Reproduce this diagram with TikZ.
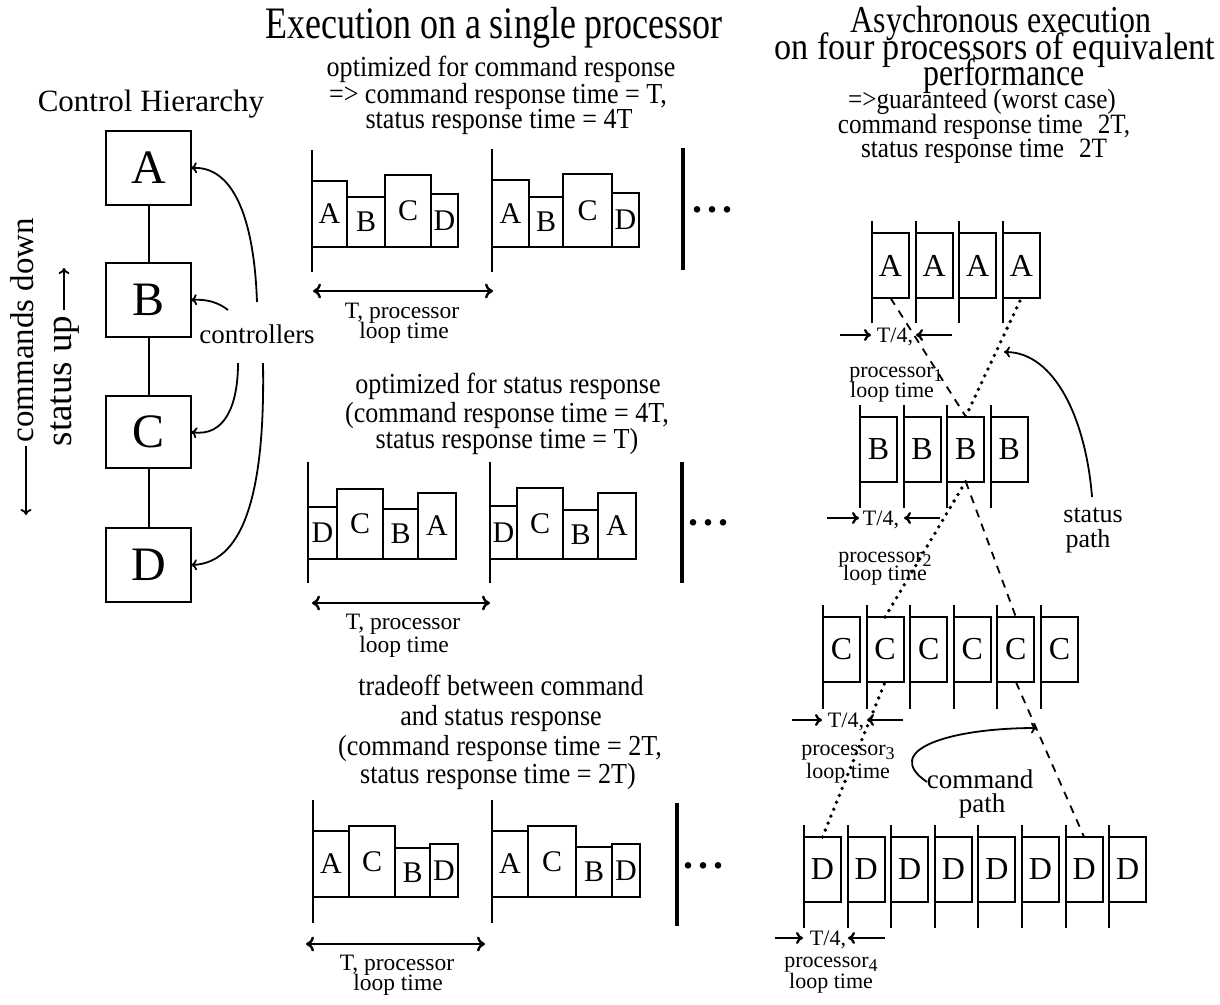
\documentclass[tikz,border=0pt]{standalone}
\usepackage{fontspec}
\setmainfont{Liberation Serif}
\newfontfamily\condA{Liberation Serif}[FakeStretch=0.8]
\newfontfamily\condB{Liberation Serif}[FakeStretch=0.9]
\newfontfamily\condC{Liberation Serif}[FakeStretch=0.84]
\usetikzlibrary{arrows.meta,calc}
\pgfdeclarelayer{paper}
\pgfsetlayers{paper,main}
\newcommand\fsz[1]{\fontsize{#1}{#1}\selectfont}
\newcommand\mb[6]{\node[mbox, minimum width={#3-#2}, minimum height={#5-#4}] (#1) at ({(#2+#3)/2},{(#4+#5)/2}) {#6};}
\newcommand\tx[5]{\node[anchor=base, font=#4] (#1) at (#2,#3) {#5};}
\tikzset{
  every node/.style={inner sep=0pt, outer sep=0pt},
  lbox/.style={draw, line width=2.2pt, fill=white, minimum width=85, minimum height=74, font=\fsz{48}},
  mbox/.style={draw, line width=2pt, fill=white, font=\fsz{30}},
  rbox/.style={draw, line width=2pt, fill=white, minimum width=37, minimum height=65, font=\fsz{32}},
  bar/.style={line width=2pt},
  heavybar/.style={line width=3.2pt},
  cm/.tip={Computer Modern Rightarrow[length=6pt,width=11pt]},
  cmt/.tip={Computer Modern Rightarrow[length=7pt,width=12pt]},
  cmbig/.tip={Computer Modern Rightarrow[length=8pt,width=15pt]},
  ptr/.style={line width=1.8pt, -{cm}},
  tq/.style={line width=2.3pt, -{cmt}},
  dbl/.style={line width=2.4pt, {cmbig}-{cmbig}},
  dotpath/.style={line width=3.8pt, line cap=round, dash pattern=on 0pt off 7.5pt},
  dashpath/.style={line width=1.8pt, dash pattern=on 8pt off 7pt},
}
\begin{document}
\begin{tikzpicture}[x=1pt,y=-1pt]
\begin{pgfonlayer}{paper}
\fill[white] (0,0) rectangle (1220,1004);
\end{pgfonlayer}
\useasboundingbox (0,0) rectangle (1220,1004);

% ---------------- left: control hierarchy ----------------
\tx{ch}{151}{111}{\fsz{31}}{Control Hierarchy}
\node[lbox] (hA) at (148.5,168) {A};
\node[lbox] (hB) at (148.5,300) {B};
\node[lbox, minimum height=72] (hC) at (148.5,432) {C};
\node[lbox] (hD) at (148.5,565) {D};
\draw[line width=2pt] (hA) -- (hB) (hB) -- (hC) (hC) -- (hD);
\tx{ctl}{257}{343}{\fsz{27}}{controllers}
\coordinate (cA) at (257,302);
\coordinate (cB) at (228,310);
\coordinate (cC) at (238,363);
\coordinate (cD) at (263,363);
\draw[ptr] (cA) .. controls (254,215) and (232,166) .. (hA.east);
\draw[ptr] (cB) .. controls (218,302) and (206,299) .. (hB.east);
\draw[ptr] (cC) .. controls (238,405) and (225,437) .. (hC.east);
\draw[ptr] (cD) .. controls (265,480) and (248,563) .. (hD.east);

\node[rotate=90, anchor=base, font=\fsz{33}] (cmd) at (33,330) {commands down};
\coordinate (cd1) at (26,446);
\coordinate (cd2) at (26,515);
\draw[ptr] (cd1) -- (cd2);
\node[rotate=90, anchor=base, font=\fsz{37}] (stu) at (71,381) {status up};
\coordinate (su1) at (64,310);
\coordinate (su2) at (64,268);
\draw[ptr] (su1) -- (su2);

% ---------------- middle: single processor ----------------
\tx{t1}{494}{38}{\condA\fsz{45}}{Execution on a single processor}
\tx{m11}{501}{76}{\condB\fsz{29}}{optimized for command response}
\tx{m12}{498}{103}{\condB\fsz{29}}{=> command response time = T,}
\tx{m13}{499}{128}{\condB\fsz{29}}{status response time = 4T}

% row 1
\draw[bar] (312,150) -- (312,272);
\draw[bar] (492,149) -- (492,272);
\draw[heavybar] (683,148) -- (683,270);
\mb{pa1}{312}{347}{181}{247}{A}
\mb{pb1}{347}{385}{197}{247}{B}
\mb{pc1}{385}{431}{175}{247}{C}
\mb{pd1}{431}{458}{194}{247}{D}
\mb{pa2}{492}{529}{180}{247}{A}
\mb{pb2}{529}{563}{197}{247}{B}
\mb{pc2}{563}{612}{174}{247}{C}
\mb{pd2}{612}{639}{193}{247}{D}
\tx{dots1}{712}{212}{\bfseries\fsz{40}}{.\kern5pt.\kern5pt.}
\coordinate (r1l) at (313,291);
\coordinate (r1r) at (493,291);
\draw[dbl] (r1l) -- (r1r);
\tx{r1t1}{402}{318}{\fsz{23.5}}{T, processor}
\tx{r1t2}{404}{338}{\fsz{23.5}}{loop time}

% row 2
\tx{m21}{508}{393}{\condB\fsz{29}}{optimized for status response}
\tx{m22}{507}{422}{\condB\fsz{29}}{(command response time = 4T,}
\tx{m23}{507}{448}{\condB\fsz{29}}{status response time = T)}
\draw[bar] (308,462) -- (308,583);
\draw[bar] (490,462) -- (490,583);
\draw[heavybar] (682,462) -- (682,583);
\mb{qd1}{308}{337}{507}{559}{D}
\mb{qc1}{337}{383}{489}{559}{C}
\mb{qb1}{383}{418}{509}{559}{B}
\mb{qa1}{418}{456}{493}{559}{A}
\mb{qd2}{490}{517}{506}{559}{D}
\mb{qc2}{517}{563}{488}{559}{C}
\mb{qb2}{563}{598}{510}{559}{B}
\mb{qa2}{598}{636}{493}{559}{A}
\tx{dots2}{708}{525}{\bfseries\fsz{40}}{.\kern5pt.\kern5pt.}
\coordinate (r2l) at (312,603);
\coordinate (r2r) at (490,603);
\draw[dbl] (r2l) -- (r2r);
\tx{r2t1}{403}{629}{\fsz{23.5}}{T, processor}
\tx{r2t2}{404}{652}{\fsz{23.5}}{loop time}

% row 3
\tx{m31}{501}{695}{\condB\fsz{29}}{tradeoff between command}
\tx{m32}{501}{725}{\condB\fsz{29}}{and status response}
\tx{m33}{500}{755}{\condB\fsz{29}}{(command response time = 2T,}
\tx{m34}{498}{783}{\condB\fsz{29}}{status response time = 2T)}
\draw[bar] (313,800) -- (313,923);
\draw[bar] (492,800) -- (492,923);
\draw[heavybar] (677,803) -- (677,926);
\mb{sa1}{313}{349}{831}{897}{A}
\mb{sc1}{349}{395}{826}{897}{C}
\mb{sb1}{395}{430}{848}{897}{B}
\mb{sd1}{430}{458}{844}{897}{D}
\mb{sa2}{492}{528}{831}{897}{A}
\mb{sc2}{528}{576}{826}{897}{C}
\mb{sb2}{576}{612}{847}{897}{B}
\mb{sd2}{612}{640}{844}{897}{D}
\tx{dots3}{703}{868}{\bfseries\fsz{40}}{.\kern5pt.\kern5pt.}
\coordinate (r3l) at (306,944);
\coordinate (r3r) at (485,944);
\draw[dbl] (r3l) -- (r3r);
\tx{r3t1}{397}{970}{\fsz{23.5}}{T, processor}
\tx{r3t2}{398}{990}{\fsz{23.5}}{loop time}

% ---------------- right: four processors ----------------
\tx{u1}{1001}{32}{\condC\fsz{38}}{Asychronous execution}
\tx{u2}{995}{59}{\condB\fsz{38}}{on four processors of equivalent}
\tx{u3}{1004}{85}{\condC\fsz{38}}{performance}
\tx{u4}{982}{108}{\condB\fsz{28}}{=>guaranteed (worst case)}
\tx{u5}{984}{133}{\condB\fsz{28}}{command response time\hspace{15pt}2T,}
\tx{u6}{984}{157}{\condB\fsz{28}}{status response time\hspace{15pt}2T}

\foreach \i in {1,...,4}{
  \draw[bar] ({872+(\i-1)*43.6},221) -- ({872+(\i-1)*43.6},323);
  \node[rbox] (A\i) at ({890.5+(\i-1)*43.6},265.5) {A};
}
\foreach \i in {1,...,4}{
  \draw[bar] ({860+(\i-1)*43.6},405) -- ({860+(\i-1)*43.6},508);
  \node[rbox] (B\i) at ({878.5+(\i-1)*43.6},449) {B};
}
\foreach \i in {1,...,6}{
  \draw[bar] ({823+(\i-1)*43.6},605) -- ({823+(\i-1)*43.6},709);
  \node[rbox] (C\i) at ({841.5+(\i-1)*43.6},649.5) {C};
}
\foreach \i in {1,...,8}{
  \draw[bar] ({804+(\i-1)*43.6},825) -- ({804+(\i-1)*43.6},928);
  \node[rbox] (D\i) at ({822.5+(\i-1)*43.6},869.5) {D};
}

% T/4 annotations
\coordinate (a1s) at (840,335); \coordinate (a1e) at (871,335);
\coordinate (a2s) at (952,335); \coordinate (a2e) at (916,335);
\draw[tq] (a1s) -- (a1e); \draw[tq] (a2s) -- (a2e);
\tx{qa}{895}{342}{\fsz{22}}{T/4,}
\tx{pa}{896}{377}{\fsz{22}}{processor\raisebox{-4pt}{\fsz{18}1}}
\tx{la}{892}{397}{\fsz{22}}{loop time}

\coordinate (b1s) at (827,518); \coordinate (b1e) at (859,518);
\coordinate (b2s) at (940,518); \coordinate (b2e) at (904,518);
\draw[tq] (b1s) -- (b1e); \draw[tq] (b2s) -- (b2e);
\tx{qb}{881}{525}{\fsz{22}}{T/4,}
\tx{pb}{885}{562}{\fsz{22}}{processor\raisebox{-4pt}{\fsz{18}2}}
\tx{lb}{885}{580}{\fsz{22}}{loop time}

\coordinate (c1s) at (792,720); \coordinate (c1e) at (822,720);
\coordinate (c2s) at (903,720); \coordinate (c2e) at (867,720);
\draw[tq] (c1s) -- (c1e); \draw[tq] (c2s) -- (c2e);
\tx{qc}{846}{727}{\fsz{22}}{T/4,}
\tx{pc}{848}{755}{\fsz{22}}{processor\raisebox{-4pt}{\fsz{18}3}}
\tx{lc}{848}{778}{\fsz{22}}{loop time}

\coordinate (d1s) at (775,938); \coordinate (d1e) at (803,938);
\coordinate (d2s) at (885,938); \coordinate (d2e) at (848,938);
\draw[tq] (d1s) -- (d1e); \draw[tq] (d2s) -- (d2e);
\tx{qd}{828}{945}{\fsz{22}}{T/4,}
\tx{pd}{831}{967}{\fsz{22}}{processor\raisebox{-4pt}{\fsz{18}4}}
\tx{ld}{831}{988}{\fsz{22}}{loop time}

% status path (dotted) and command path (dashed)
\draw[dotpath] (D1.north) -- (C2.south) (C2.north) -- (B3.south) (B3.north) -- (A4.south);
\draw[dashpath] (A1.south) -- (B3.north) (B3.south) -- (C5.north) (C5.south) -- (D7.north);

\tx{st1}{1093}{522}{\fsz{26}}{status}
\tx{st2}{1088}{547}{\fsz{26}}{path}
\coordinate (sp0) at (1092,497);
\coordinate (sp) at (1004,352);
\draw[ptr] (sp0) .. controls (1086,420) and (1055,352) .. (sp);

\tx{cm1}{980}{788}{\fsz{27}}{command}
\tx{cm2}{982}{812}{\fsz{27}}{path}
\coordinate (cp0) at (927,782);
\coordinate (cp) at (1037,728);
\draw[ptr] (cp0) .. controls (880,750) and (950,728) .. (cp);
\end{tikzpicture}
\end{document}
